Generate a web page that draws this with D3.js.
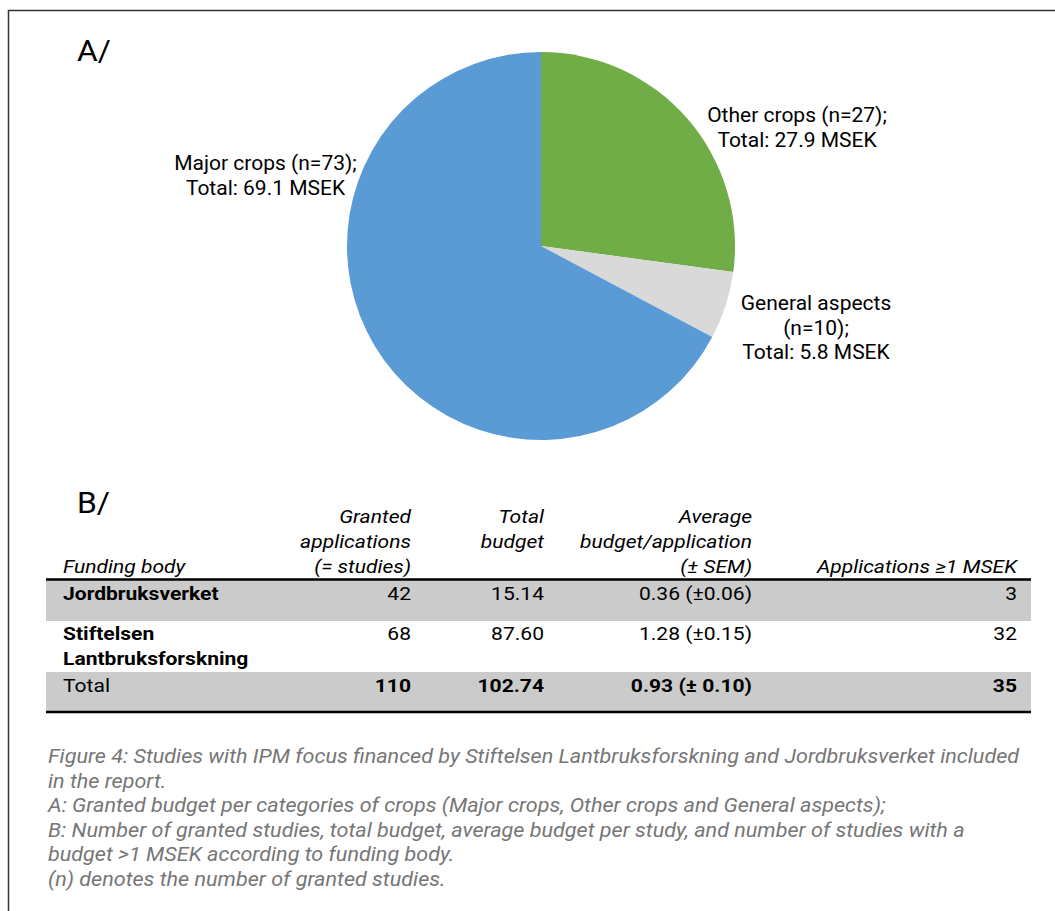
<!DOCTYPE html>
<html><head><meta charset="utf-8">
<script src="https://cdn.jsdelivr.net/npm/d3@7"></script>
<style>body{margin:0;background:#fff}svg{display:block;font-family:Roboto,"Noto Sans",sans-serif}</style>
</head><body><svg id="c" width="1055" height="911"></svg>
<script>
// ---- data ----
const categories = ["Other crops", "General aspects", "Major crops"];
const counts = [27, 10, 73];
const totals = [27.9, 5.8, 69.1];
const sliceColors = ["#70AD47", "#D9D9D9", "#5B9BD5"];

const fundingBodies = ["Jordbruksverket", "Stiftelsen Lantbruksforskning", "Total"];
const grantedApps = ["42", "68", "110"];
const totalBudget = ["15.14", "87.60", "102.74"];
const avgBudget = ["0.36 (\u00b10.06)", "1.28 (\u00b10.15)", "0.93 (\u00b1 0.10)"];
const appsOver1 = ["3", "32", "35"];
const headers = [["Funding body"], ["Granted", "applications", "(= studies)"], ["Total", "budget"], ["Average", "budget/application", "(\u00b1 SEM)"], ["Applications \u22651 MSEK"]];
const headerStartLine = [2, 0, 0, 0, 2];
const captionLines = [
  "Figure 4: Studies with IPM focus financed by Stiftelsen Lantbruksforskning and Jordbruksverket included",
  "in the report.",
  "A: Granted budget per categories of crops (Major crops, Other crops and General aspects);",
  "B: Number of granted studies, total budget, average budget per study, and number of studies with a",
  "budget >1 MSEK according to funding body.",
  "(n) denotes the number of granted studies."
];

const svg = d3.select("#c");
// frame
svg.append("rect").attr("x", 8.5).attr("y", 10.5).attr("width", 1100).attr("height", 1000)
  .attr("fill", "none").attr("stroke", "#333").attr("stroke-width", 1.5);

// helper for (optionally stretched) text
function stext(x, y, str, opts) {
  return svg.append("text").attr("transform", `translate(${x},${y}) scale(${opts.sx || 1},1)`)
    .attr("font-size", opts.size).attr("fill", opts.fill || "#000")
    .attr("text-anchor", opts.anchor || "start")
    .attr("font-weight", opts.weight || "normal")
    .attr("font-style", opts.style || "normal")
    .text(str);
}

// ---- A: pie ----
stext(77, 61, "A/", {size: 30, sx: 1.06});
const cx = 541, cy = 246, R = 194;
const pie = d3.pie().sort(null).value(d => d)(totals);
const arc = d3.arc().innerRadius(0).outerRadius(R);
const g = svg.append("g").attr("transform", `translate(${cx},${cy})`);
g.selectAll("path").data(pie).join("path").attr("d", arc).attr("fill", (d, i) => sliceColors[i]);

const labelPos = [[797, 122], [816, 310], [265.5, 170]];
const labelLines = [
  [`${categories[0]} (n=${counts[0]});`, `Total: ${totals[0]} MSEK`],
  [categories[1], `(n=${counts[1]});`, `Total: ${totals[1]} MSEK`],
  [`${categories[2]} (n=${counts[2]});`, `Total: ${totals[2]} MSEK`]
];
labelLines.forEach((lines, i) => {
  lines.forEach((l, k) => stext(labelPos[i][0], labelPos[i][1] + k * 24.6, l, {size: 21, anchor: "middle"}));
});

// ---- B: table ----
stext(77, 513, "B/", {size: 30, sx: 1.06});
const tableL = 46, tableR = 1031;
const colX = [63, 411, 544, 752, 1017];
const SX = 1.17, TS = 18;
const headerLineY = [523, 548, 573];
headers.forEach((h, c) => {
  h.forEach((line, k) => {
    stext(colX[c], headerLineY[headerStartLine[c] + k], line,
      {size: TS, sx: SX, anchor: c === 0 ? "start" : "end", style: "italic"});
  });
});
const rowTop = [580, 621, 672];
const rowBot = [621, 672, 712];
const rowFill = ["#CBCBCB", "#fff", "#CBCBCB"];
rowTop.forEach((y, r) => {
  svg.append("rect").attr("x", tableL).attr("y", y).attr("width", tableR - tableL).attr("height", rowBot[r] - y).attr("fill", rowFill[r]);
});
svg.append("line").attr("x1", tableL).attr("x2", tableR).attr("y1", 579.5).attr("y2", 579.5).attr("stroke", "#000").attr("stroke-width", 2.5);
svg.append("line").attr("x1", tableL).attr("x2", tableR).attr("y1", 712).attr("y2", 712).attr("stroke", "#000").attr("stroke-width", 2.5);

const rowBase = [600, 640, 692];
fundingBodies.forEach((fb, r) => {
  const boldName = r < 2;
  const boldVals = r === 2;
  const parts = r === 1 ? fb.split(" ") : [fb];
  parts.forEach((p, k) => stext(colX[0], rowBase[r] + k * 25, p, {size: TS, sx: SX, weight: boldName ? "bold" : "normal"}));
  [grantedApps, totalBudget, avgBudget, appsOver1].forEach((arr, c) => {
    stext(colX[c + 1], rowBase[r], arr[r], {size: TS, sx: SX, anchor: "end", weight: boldVals ? "bold" : "normal"});
  });
});

// ---- caption ----
captionLines.forEach((l, k) => {
  stext(48, 763 + k * 24.5, l, {size: 21, sx: 1.028, style: "italic", fill: "#767676"});
});
</script></body></html>
